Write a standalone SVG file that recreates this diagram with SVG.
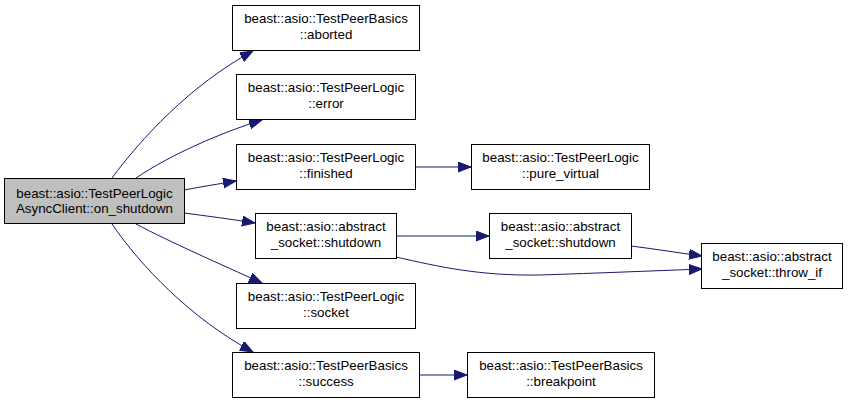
<svg xmlns="http://www.w3.org/2000/svg" width="848" height="403" viewBox="0 0 848 403">
<style>
.n rect{fill:#fff;stroke:#000;stroke-width:1}
.n.root rect{fill:#bfbfbf}
.n text{font-family:"Liberation Sans",Arial,sans-serif;font-size:13.33px;fill:#000;text-anchor:middle}
.e path{fill:none;stroke:#191970;stroke-width:1}
</style>
<defs>
<marker id="a" markerUnits="userSpaceOnUse" markerWidth="14" markerHeight="11" refX="13" refY="5" orient="auto">
<path d="M0,0 L13,5 L0,10 z" fill="#191970" stroke="#191970"/>
</marker>
</defs>
<rect width="848" height="403" fill="#fff"/>
<g class="e">
<path d="M112,178 C140,140 190,85 253,51" marker-end="url(#a)"/>
<path d="M136,178 C170,155 220,133 262,120" marker-end="url(#a)"/>
<path d="M184,190 C200,187 218,184 236,181" marker-end="url(#a)"/>
<path d="M415,167 L471,167" marker-end="url(#a)"/>
<path d="M184,213 C207,216 230,219 255,223" marker-end="url(#a)"/>
<path d="M396,236 L489,236" marker-end="url(#a)"/>
<path d="M396,257 C440,267 480,276 540,275 C600,273 650,271 702,269" marker-end="url(#a)"/>
<path d="M631,246 C655,249 680,253 702,256" marker-end="url(#a)"/>
<path d="M136,224 C170,242 220,264 262,283" marker-end="url(#a)"/>
<path d="M112,224 C140,265 190,318 253,352" marker-end="url(#a)"/>
<path d="M419,375 L467,375" marker-end="url(#a)"/>
</g>
<g id="root" class="n root"><rect x="4.5" y="178.5" width="180" height="45"/><text x="94.5" y="197.5">beast::asio::TestPeerLogic</text><text x="94.5" y="212.5">AsyncClient::on_shutdown</text></g>
<g id="aborted" class="n"><rect x="232.5" y="5.5" width="187" height="45"/><text x="326" y="23">beast::asio::TestPeerBasics</text><text x="326" y="39">::aborted</text></g>
<g id="error" class="n"><rect x="236.5" y="74.5" width="179" height="45"/><text x="326" y="92">beast::asio::TestPeerLogic</text><text x="326" y="108">::error</text></g>
<g id="finished" class="n"><rect x="236.5" y="144.5" width="179" height="45"/><text x="326" y="162">beast::asio::TestPeerLogic</text><text x="326" y="178">::finished</text></g>
<g id="pure_virtual" class="n"><rect x="471.5" y="144.5" width="178" height="45"/><text x="560.5" y="162">beast::asio::TestPeerLogic</text><text x="560.5" y="178">::pure_virtual</text></g>
<g id="shutdown1" class="n"><rect x="255.5" y="213.5" width="141" height="45"/><text x="326" y="231">beast::asio::abstract</text><text x="326" y="247">_socket::shutdown</text></g>
<g id="shutdown2" class="n"><rect x="489.5" y="213.5" width="142" height="45"/><text x="560.5" y="231">beast::asio::abstract</text><text x="560.5" y="247">_socket::shutdown</text></g>
<g id="throw_if" class="n"><rect x="701.5" y="243.5" width="141" height="45"/><text x="772" y="261">beast::asio::abstract</text><text x="772" y="277">_socket::throw_if</text></g>
<g id="socket" class="n"><rect x="236.5" y="283.5" width="179" height="45"/><text x="326" y="301">beast::asio::TestPeerLogic</text><text x="326" y="317">::socket</text></g>
<g id="success" class="n"><rect x="232.5" y="352.5" width="187" height="45"/><text x="326" y="370">beast::asio::TestPeerBasics</text><text x="326" y="386">::success</text></g>
<g id="breakpoint" class="n"><rect x="467.5" y="352.5" width="187" height="45"/><text x="561" y="370">beast::asio::TestPeerBasics</text><text x="561" y="386">::breakpoint</text></g>
</svg>
